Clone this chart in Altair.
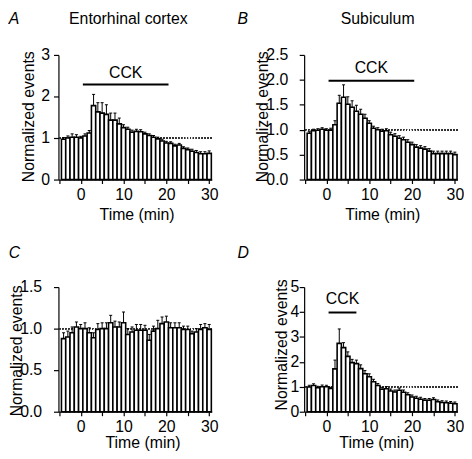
import altair as alt
import pandas as pd

# ---------------- data ----------------
time_min = list(range(-4, 31))

ec_mean = [0.97, 1.00, 1.02, 1.02, 1.00, 1.05, 1.12,
           1.78, 1.63, 1.60, 1.57, 1.43, 1.43, 1.34, 1.25, 1.21, 1.14,
           1.16, 1.15, 1.10, 1.06, 1.02, 0.98, 0.93, 0.88, 0.87, 0.81,
           0.83, 0.75, 0.72, 0.68, 0.65, 0.62, 0.62, 0.63]
ec_sem = [0.04, 0.05, 0.08, 0.06, 0.04, 0.05, 0.06,
          0.27, 0.22, 0.25, 0.23, 0.17, 0.17, 0.14, 0.07, 0.05, 0.05,
          0.05, 0.05, 0.04, 0.04, 0.04, 0.04, 0.04, 0.04, 0.04, 0.04,
          0.04, 0.04, 0.04, 0.05, 0.05, 0.05, 0.05, 0.06]

sub_mean = [0.93, 0.98, 0.99, 1.01, 0.99, 0.99, 1.10,
            1.53, 1.65, 1.51, 1.45, 1.37, 1.31, 1.23, 1.13, 1.03,
            1.00, 0.97, 0.98, 0.90, 0.87, 0.83, 0.80, 0.75, 0.70, 0.65,
            0.63, 0.61, 0.57, 0.52, 0.52, 0.52, 0.52, 0.52, 0.50]
sub_sem = [0.03, 0.03, 0.03, 0.03, 0.03, 0.04, 0.08,
           0.16, 0.25, 0.15, 0.13, 0.12, 0.10, 0.08, 0.05, 0.04,
           0.04, 0.04, 0.04, 0.05, 0.05, 0.05, 0.05, 0.05, 0.05, 0.05,
           0.05, 0.05, 0.05, 0.05, 0.05, 0.05, 0.05, 0.05, 0.05]

ctl_mean = [0.88, 0.90, 0.95, 1.02, 1.00, 1.00, 0.95, 0.89, 0.99, 1.00,
            1.00, 1.07, 1.02, 1.02, 1.07, 0.93, 0.96, 0.98, 0.98, 0.98,
            0.86, 0.97, 1.00, 1.06, 1.08, 1.01, 1.01, 1.01, 0.99, 0.99,
            0.94, 0.96, 0.99, 1.01, 0.99]
ctl_sem = [0.07, 0.07, 0.07, 0.06, 0.05, 0.07, 0.06, 0.06, 0.07, 0.07,
           0.07, 0.09, 0.07, 0.06, 0.13, 0.07, 0.06, 0.07, 0.07, 0.06,
           0.07, 0.06, 0.10, 0.08, 0.07, 0.06, 0.06, 0.06, 0.04, 0.04,
           0.03, 0.04, 0.06, 0.05, 0.06]

d_mean = [0.99, 1.05, 0.96, 1.00, 1.00, 0.93,
          1.72, 2.74, 2.57, 2.22, 1.97, 1.93, 1.73, 1.52, 1.40, 1.20,
          1.05, 0.90, 0.92, 0.83, 0.79, 0.86, 0.78, 0.68, 0.59, 0.54,
          0.50, 0.46, 0.46, 0.49, 0.40, 0.37, 0.36, 0.34, 0.32]
d_sem = [0.07, 0.07, 0.06, 0.07, 0.06, 0.05,
         0.35, 0.58, 0.20, 0.18, 0.13, 0.14, 0.15, 0.13, 0.12, 0.10,
         0.08, 0.08, 0.09, 0.08, 0.08, 0.09, 0.09, 0.08, 0.08, 0.08,
         0.08, 0.07, 0.07, 0.07, 0.07, 0.07, 0.07, 0.07, 0.07]

# CCK application bars (start, end in min; line level and label level in y units)
cck_start = {"A": 0.5, "B": 0.5, "D": 0.5}
cck_end = {"A": 20.5, "B": 20.5, "D": 7.0}
cck_line_y = {"A": 2.29, "B": 1.98, "D": 3.98}
cck_label_y = {"A": 2.45, "B": 2.13, "D": 4.31}

panel_letters = ["A", "B", "C", "D"]
panel_titles = ["Entorhinal cortex", "Subiculum", "", ""]

# y tick values and their printed labels per panel
ya_ticks = [0, 1, 2, 3]
ya_labels = ["0", "1", "2", "3"]
yb_ticks = [0, 0.5, 1, 1.5, 2, 2.5]
yb_labels = ["0.0", "0.5", "1.0", "1.5", "2.0", "2.5"]
yc_ticks = [0, 0.5, 1, 1.5]
yc_labels = ["0.0", "0.5", "1.0", "1.5"]
yd_ticks = [0, 1, 2, 3, 4, 5]
yd_labels = ["0", "1", "2", "3", "4", "5"]

FONT = "Liberation Sans"
W, H = 155, 126
XDOM = [-5.2, 30.6]
XTITLE = "Time (min)"
YTITLE = "Normalized events"


def panel(letter, title, mean, sem, ymax, yvals, ylabs, ylab_x,
          ytitlex, ytitley, xtitlex, xtitley, letter_x, letter_y, title_x):
    df = pd.DataFrame({"t": time_min, "v": mean, "e": sem})
    base = alt.Chart(df).transform_calculate(
        x0="datum.t - 0.5", x1="datum.t + 0.5",
        top="datum.v + datum.e",
        c0="datum.t - 0.35", c1="datum.t + 0.35")
    xs = alt.Scale(domain=XDOM, nice=False, zero=False)
    ys = alt.Scale(domain=[0, ymax], nice=False)

    xaxis = alt.Axis(values=[-5, 0, 5, 10, 15, 20, 25, 30],
                     labelExpr="datum.value % 10 == 0 ? datum.label : ''",
                     tickSize=4, labelPadding=3, titleX=xtitlex, titleY=xtitley,
                     titleBaseline="alphabetic", titleAlign="center")
    yaxis = alt.Axis(values=yvals, labels=False, tickSize=5,
                     titleX=ytitlex, titleY=ytitley, titleAngle=270,
                     titleBaseline="alphabetic", titleAlign="center")

    def X(f):
        return alt.X(f, scale=xs, axis=xaxis, title=XTITLE)

    def Y(f):
        return alt.Y(f, scale=ys, axis=yaxis, title=YTITLE)

    dotted = base.mark_rule(color="#333333", strokeWidth=1, strokeDash=[1, 2]).encode(
        y=alt.Y(datum=1, scale=ys, axis=yaxis, title=YTITLE))
    bars = base.mark_bar(fill="white", stroke="black", strokeWidth=1.6).encode(
        x=X("x0:Q"), x2="x1:Q", y=Y("v:Q"), y2=alt.datum(0))
    err = base.mark_rule(color="black", strokeWidth=1).encode(
        x=X("t:Q"), y=Y("v:Q"), y2="top:Q")
    caps = base.mark_rule(color="black", strokeWidth=1).encode(
        x=X("c0:Q"), x2="c1:Q", y=Y("top:Q"))

    # y tick labels, placed through the y scale
    tdf_y = pd.DataFrame({"yv": yvals, "yl": ylabs})
    ylab = alt.Chart(tdf_y).mark_text(font=FONT, fontSize=16, align="right",
                                      baseline="middle", color="black").encode(
        y=Y("yv:Q"), x=alt.value(ylab_x), text="yl:N")

    layers = [dotted, bars, err, caps, ylab]

    if letter in cck_start:
        cdf = pd.DataFrame({"s": [cck_start[letter]], "e": [cck_end[letter]],
                            "ly": [cck_line_y[letter]], "ty": [cck_label_y[letter]],
                            "lab": ["CCK"]})
        cbase = alt.Chart(cdf).transform_calculate(mid="(datum.s + datum.e) / 2")
        layers.append(cbase.mark_rule(color="black", strokeWidth=2).encode(
            x=X("s:Q"), x2="e:Q", y=Y("ly:Q")))
        layers.append(cbase.mark_text(font=FONT, fontSize=16, baseline="alphabetic",
                                      align="center", color="black").encode(
            x=X("mid:Q"), y=Y("ty:Q"), text="lab:N"))

    ldf = pd.DataFrame({"s": [letter]})
    layers.append(alt.Chart(ldf).mark_text(font=FONT, fontSize=16, fontStyle="italic",
                                           align="left", baseline="alphabetic",
                                           color="black").encode(
        text="s:N", x=alt.value(letter_x), y=alt.value(letter_y)))
    if title:
        tdf = pd.DataFrame({"s": [title]})
        layers.append(alt.Chart(tdf).mark_text(font=FONT, fontSize=16, align="center",
                                               baseline="alphabetic",
                                               color="black").encode(
            text="s:N", x=alt.value(title_x), y=alt.value(-31.4)))

    return alt.layer(*layers).properties(width=W, height=H)


pA = panel("A", panel_titles[0], ec_mean, ec_sem, 3, ya_ticks, ya_labels, -8.5,
           -25, 62, 79, 40, -50.3, -31.4, 70.7)
pB = panel("B", panel_titles[1], sub_mean, sub_sem, 2.5, yb_ticks, yb_labels, -16,
           -37.4, 62, 79, 40, -67.4, -31.4, 74.3)
pC = panel("C", panel_titles[2], ctl_mean, ctl_sem, 1.5, yc_ticks, yc_labels, -16.5,
           -37.7, 64, 85, 36, -50.3, -29.7, 0)
pD = panel("D", panel_titles[3], d_mean, d_sem, 5, yd_ticks, yd_labels, -5,
           -17.5, 58, 73, 36, -67.4, -29.7, 0)

chart = alt.concat(pA, pB, pC, pD, columns=2,
                   spacing={"row": 108.7, "column": 93.4},
                   bounds="flush").properties(padding=0).configure_view(
    stroke=None).configure_axis(
    grid=False, domainColor="black", tickColor="black", labelColor="black",
    titleColor="black", labelFont=FONT, titleFont=FONT, labelFontSize=16,
    titleFontSize=16, titleFontWeight="normal", domainWidth=1.2, tickWidth=1.2,
    labelFlush=False, labelOverlap=False)

chart.save("out.html", embed_options={"renderer": "svg", "actions": False})
